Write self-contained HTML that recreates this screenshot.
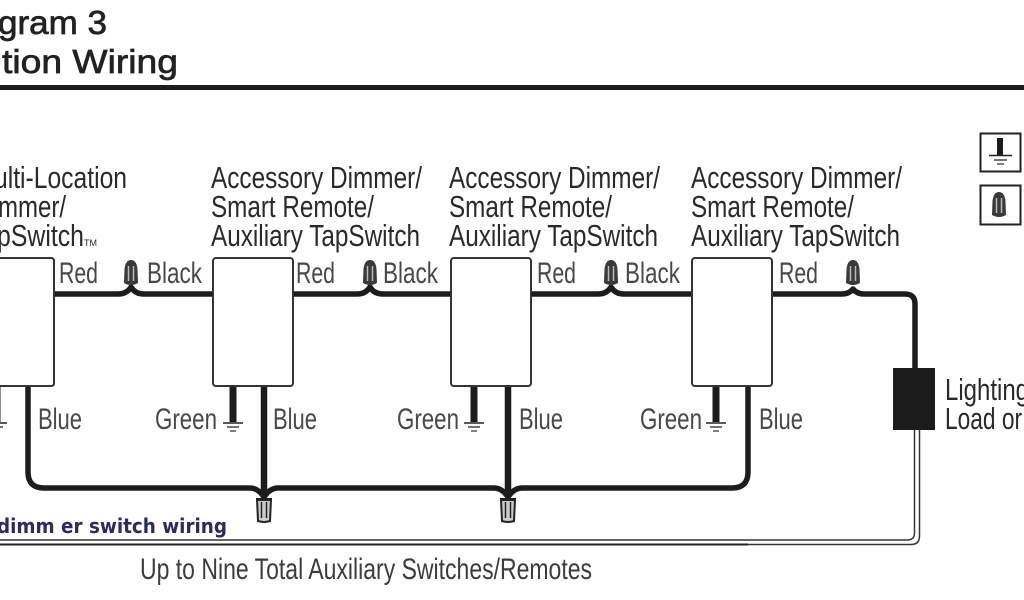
<!DOCTYPE html>
<html><head><meta charset="utf-8"><style>
html,body{margin:0;padding:0;background:#fff;width:1024px;height:600px;overflow:hidden}
svg{display:block}
text{font-family:"Liberation Sans",sans-serif;fill:#2a2a2a;font-size:31px}
.s{font-size:30px;fill:#484848}
.h{font-size:33px;fill:#222;font-weight:400;stroke:#222;stroke-width:.7px}
.w{fill:none;stroke:#1c1c1c;stroke-width:5.5;stroke-linejoin:round}
.b{fill:#fff;stroke:#333;stroke-width:2}
.t{fill:none;stroke:#222;stroke-width:2}
</style></head><body>
<svg width="1024" height="600" viewBox="0 0 1024 600" xmlns="http://www.w3.org/2000/svg">
<defs>
<g id="n"><path d="M-6.500 -15 Q-5.500 -24 0 -24 Q5.500 -24 6.500 -15 L7 -1 Q0 3 -7 -1 Z" fill="#3a3a3a"/><path d="M-2.500 -18V-3M2.500 -18V-3" stroke="#bbb" stroke-width="1.500"/></g>
<g id="d"><path d="M-7 -11 H7 L6 11 Q0 13 -6 11 Z" fill="#ccc" stroke="#222" stroke-width="2"/><path d="M-2.500 -8V8M2.500 -8V8" stroke="#222" stroke-width="1.500"/><rect x="-7" y="-12" width="14" height="3" fill="#222"/></g>
<g id="g"><path d="M0 -35V0" stroke="#1c1c1c" stroke-width="7"/><path d="M-10 1H10" stroke="#222" stroke-width="1.500"/><path d="M-6 5H6" stroke="#444" stroke-width="1.500"/><path d="M-3 9H3" stroke="#555" stroke-width="1.500"/></g>
</defs>

<text class="h" x="-2" y="34" textLength="109" lengthAdjust="spacingAndGlyphs">gram 3</text>
<text class="h" x="2" y="73" textLength="176" lengthAdjust="spacingAndGlyphs">tion Wiring</text>
<rect x="0" y="85" width="1024" height="5" fill="#1c1c1c"/>

<text x="-6" y="188" textLength="133" lengthAdjust="spacingAndGlyphs">ulti-Location</text>
<text x="-2" y="217" textLength="68" lengthAdjust="spacingAndGlyphs">mmer/</text>
<text x="-3" y="246" textLength="87" lengthAdjust="spacingAndGlyphs">pSwitch</text>
<text x="84" y="246" style="font-size:9px">TM</text>

<text x="211" y="188" textLength="211" lengthAdjust="spacingAndGlyphs">Accessory Dimmer/</text>
<text x="211" y="217" textLength="163" lengthAdjust="spacingAndGlyphs">Smart Remote/</text>
<text x="211" y="246" textLength="209" lengthAdjust="spacingAndGlyphs">Auxiliary TapSwitch</text>
<text x="449" y="188" textLength="211" lengthAdjust="spacingAndGlyphs">Accessory Dimmer/</text>
<text x="449" y="217" textLength="163" lengthAdjust="spacingAndGlyphs">Smart Remote/</text>
<text x="449" y="246" textLength="209" lengthAdjust="spacingAndGlyphs">Auxiliary TapSwitch</text>
<text x="691" y="188" textLength="211" lengthAdjust="spacingAndGlyphs">Accessory Dimmer/</text>
<text x="691" y="217" textLength="163" lengthAdjust="spacingAndGlyphs">Smart Remote/</text>
<text x="691" y="246" textLength="209" lengthAdjust="spacingAndGlyphs">Auxiliary TapSwitch</text>

<!-- top wires -->
<path class="w" d="M54 294H118Q127 294 131 287Q135 294 144 294H213"/>
<path class="w" d="M293 294H357Q366 294 370 287Q374 294 383 294H451"/>
<path class="w" d="M531 294H598Q607 294 611 287Q615 294 624 294H692"/>
<path class="w" d="M772 294H842Q849 294 853 289Q857 294 864 294H905Q915 294 915 304V368"/>

<!-- bottom wires -->
<path class="w" d="M28 386V472Q28 488 44 488H250Q258 488 264 497Q270 488 278 488H494Q502 488 508 497Q514 488 522 488H732Q748 488 748 472V386"/>
<path class="w" d="M264 386V497M508 386V497" style="stroke-width:6.500"/>

<!-- boxes -->
<path class="b" d="M-5 258H51Q54 258 54 261V383Q54 386 51 386H-5Z"/>
<rect class="b" x="213" y="258" width="80" height="128" rx="3"/>
<rect class="b" x="451" y="258" width="80" height="128" rx="3"/>
<rect class="b" x="692" y="258" width="80" height="128" rx="3"/>

<use href="#n" x="131" y="284"/><use href="#n" x="370" y="284"/><use href="#n" x="611" y="284"/><use href="#n" x="853" y="284"/>
<use href="#d" x="264" y="510"/><use href="#d" x="508" y="510"/>

<use href="#g" x="233" y="422"/><use href="#g" x="474" y="422"/><use href="#g" x="716" y="422"/><use href="#g" x="-3" y="422"/>

<text class="s" x="59" y="283" textLength="39" lengthAdjust="spacingAndGlyphs">Red</text>
<text class="s" x="147" y="283" textLength="55" lengthAdjust="spacingAndGlyphs">Black</text>
<text class="s" x="296" y="283" textLength="39" lengthAdjust="spacingAndGlyphs">Red</text>
<text class="s" x="383" y="283" textLength="55" lengthAdjust="spacingAndGlyphs">Black</text>
<text class="s" x="537" y="283" textLength="39" lengthAdjust="spacingAndGlyphs">Red</text>
<text class="s" x="625" y="283" textLength="55" lengthAdjust="spacingAndGlyphs">Black</text>
<text class="s" x="779" y="283" textLength="39" lengthAdjust="spacingAndGlyphs">Red</text>
<text class="s" x="38" y="429" textLength="44" lengthAdjust="spacingAndGlyphs">Blue</text>
<text class="s" x="273" y="429" textLength="44" lengthAdjust="spacingAndGlyphs">Blue</text>
<text class="s" x="519" y="429" textLength="44" lengthAdjust="spacingAndGlyphs">Blue</text>
<text class="s" x="759" y="429" textLength="44" lengthAdjust="spacingAndGlyphs">Blue</text>
<text class="s" x="155" y="429" textLength="62" lengthAdjust="spacingAndGlyphs">Green</text>
<text class="s" x="397" y="429" textLength="62" lengthAdjust="spacingAndGlyphs">Green</text>
<text class="s" x="640" y="429" textLength="62" lengthAdjust="spacingAndGlyphs">Green</text>

<!-- load -->
<rect x="893" y="368" width="42" height="62" fill="#1c1c1c"/>
<text x="945" y="400" textLength="84" lengthAdjust="spacingAndGlyphs">Lighting</text>
<text x="945" y="429" textLength="77" lengthAdjust="spacingAndGlyphs">Load or</text>

<path d="M914.500 430V533Q914.500 540 907 540H0" fill="none" stroke="#333" stroke-width="1.500"/>
<path d="M919.500 430V536Q919.500 544.500 911 544.500H0" fill="none" stroke="#333" stroke-width="1.500"/>
<path d="M0 544.500H748" stroke="#222" stroke-width="2"/>

<text x="-3" y="533" style="font-family:'DejaVu Sans',sans-serif;font-size:20px;font-weight:700;fill:#2d2a5c" textLength="230" lengthAdjust="spacingAndGlyphs">dimm er switch wiring</text>
<text class="s" x="140" y="579" style="fill:#3c3c3c" textLength="452" lengthAdjust="spacingAndGlyphs">Up to Nine Total Auxiliary Switches/Remotes</text>

<!-- legend -->
<rect x="980.500" y="133.500" width="40" height="38" fill="#fff" class="t"/>
<rect x="980.500" y="185.500" width="40" height="39" fill="#fff" class="t"/>
<path d="M1000 138V155" stroke="#1c1c1c" stroke-width="6"/>
<path d="M989 155.500H1012" stroke="#222" stroke-width="1.500"/><path d="M994 160H1007" stroke="#444" stroke-width="1.500"/><path d="M997 164H1004" stroke="#555" stroke-width="1.500"/>
<use href="#n" x="999" y="216"/>
</svg>
</body></html>
